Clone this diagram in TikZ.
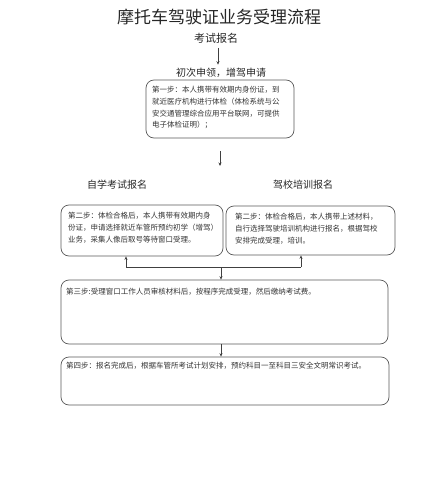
\documentclass[tikz,border=0pt]{standalone}
\usepackage{fontspec}
\setmainfont{Noto Sans CJK SC}
\usetikzlibrary{arrows.meta}
\begin{document}
\begin{tikzpicture}[x=1pt, y=-1pt, >={Stealth[length=3.5pt, width=3pt]},
    box/.style={draw=black!65, line width=0.7pt, rounded corners=8pt, inner sep=0pt},
    txt/.style={anchor=north west, inner sep=0pt, align=left, text=black!80,
      font=\fontsize{7.5}{11.8}\selectfont},
    head/.style={text=black!85, font=\fontsize{10}{12}\selectfont},
    conn/.style={draw=black!75, line width=0.6pt}]
    \useasboundingbox (0, 0) rectangle (431, 500);
    \node[text=black!85, font=\fontsize{17}{20}\selectfont] (title) at (219, 17) {摩托车驾驶证业务受理流程};
    \node[head, font=\fontsize{11}{13}\selectfont] (reg) at (216, 38) {考试报名};
    \node[head] (apply) at (221, 73) {初次申领，增驾申请};
    \coordinate (r1) at (218, 48);
    \draw[conn, ->] (r1) -- (r1 |- apply.north);
    \node[box, minimum width=148pt, minimum height=58pt] (b1) at (220, 109) {};
    \node[txt] (t1) at (152, 86) {第一步：本人携带有效期内身份证，到\\就近医疗机构进行体检（体检系统与公\\安交通管理综合应用平台联网，可提供\\电子体检证明）；};
    \coordinate (d1) at (220, 151);
    \coordinate (d2) at (220, 166);
    \draw[conn, ->] (d1) -- (d2);
    \node[head] (self) at (117, 185) {自学考试报名};
    \node[head] (school) at (303, 185) {驾校培训报名};
    \node[box, minimum width=162pt, minimum height=51pt] (b2l) at (142, 230.5) {};
    \node[txt] (t2l) at (68, 212) {第二步：体检合格后，本人携带有效期内身\\份证，申请选择就近车管所预约初学（增驾）\\业务，采集人像后取号等待窗口受理。};
    \node[box, minimum width=169pt, minimum height=49pt] (b2r) at (310.5, 230.5) {};
    \node[txt] (t2r) at (235, 213) {第二步：体检合格后，本人携带上述材料，\\自行选择驾驶培训机构进行报名，根据驾校\\安排完成受理，培训。};
    \coordinate (jl) at (126, 267);
    \coordinate (jm) at (221, 267);
    \coordinate (jr) at (301, 267);
    \draw[conn] (jl) -- (jr);
    \draw[conn, ->] (jl) -- (jl |- b2l.south);
    \draw[conn, ->] (jr) -- (jr |- b2r.south);
    \node[box, minimum width=327pt, minimum height=64pt] (b3) at (224.5, 312) {};
    \draw[conn, ->] (jm) -- (jm |- b3.north);
    \node[txt] (t3) at (66, 288) {第三步:受理窗口工作人员审核材料后，按程序完成受理，然后缴纳考试费。};
    \node[box, minimum width=328pt, minimum height=48pt] (b4) at (225, 381) {};
    \draw[conn, ->] (b3.south -| jm) -- (b4.north -| jm);
    \node[txt] (t4) at (66, 362) {第四步：报名完成后，根据车管所考试计划安排，预约科目一至科目三安全文明常识考试。};
\end{tikzpicture}
\end{document}
